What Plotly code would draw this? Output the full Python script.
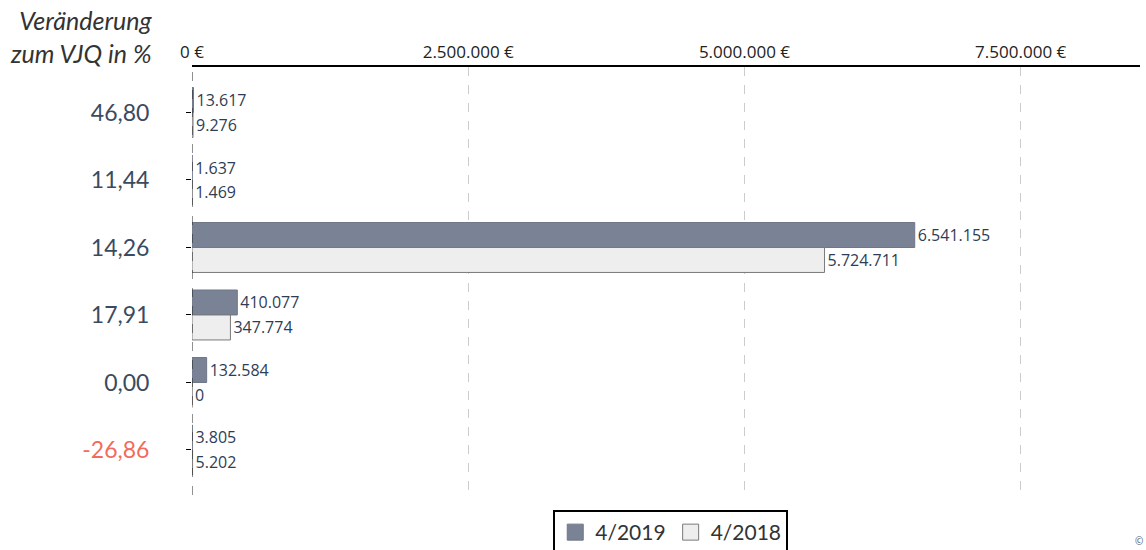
import plotly.graph_objects as go

# Categories: change vs. prior-year quarter (%)
changes = ["46,80", "11,44", "14,26", "17,91", "0,00", "-26,86"]
values_2019 = [13617, 1637, 6541155, 410077, 132584, 3805]
values_2018 = [9276, 1469, 5724711, 347774, 0, 5202]
x_ticks = [0, 2500000, 5000000, 7500000]
x_tick_labels = ["0 €", "2.500.000 €", "5.000.000 €", "7.500.000 €"]

DARK = "#7a8396"
LIGHT = "#eeeeef"
LABEL = "#2e3d55"


def de_fmt(v):
    return f"{v:,}".replace(",", ".")


def tick_label(s):
    color = "#f26b5b" if s.startswith("-") else "#3a4a60"
    return f"<span style='color:{color}'>{s}</span>"


fig = go.Figure()
series = [
    ("4/2019", values_2019, DARK, "#6f7788"),
    ("4/2018", values_2018, LIGHT, "#7a7a7a"),
]
for name, vals, fill, edge in series:
    fig.add_trace(go.Bar(
        name=name, y=changes, x=vals, orientation="h",
        marker=dict(color=fill, line=dict(color=edge, width=1)),
        text=[de_fmt(v) for v in vals], textposition="outside",
        textfont=dict(family="Open Sans", size=16, color=LABEL),
        cliponaxis=False, showlegend=False,
    ))
# legend entries with larger square swatches
for name, vals, fill, edge in series:
    fig.add_trace(go.Scatter(
        name=name, x=[None], y=[None], mode="markers",
        marker=dict(symbol="square", size=20, color=fill, line=dict(color=edge, width=1)),
    ))

# dashed zero line
fig.add_shape(type="line", xref="x", yref="paper", x0=0, x1=0, y0=0, y1=1,
              line=dict(color="#222222", width=1, dash="dash"), layer="above")

fig.add_annotation(xref="paper", yref="paper", x=-0.04, y=1.15,
                   xanchor="right", yanchor="top", align="right",
                   text="<i>Veränderung<br>zum VJQ in %</i>", showarrow=False,
                   font=dict(family="Lato", size=25, color="#333333"))
fig.add_annotation(xref="paper", yref="paper", x=1.005, y=-0.128,
                   xanchor="right", yanchor="bottom", text="©", showarrow=False,
                   font=dict(size=10, color="#555555"))

fig.update_layout(
    width=1146, height=550,
    margin=dict(l=192, r=6, t=67, b=55, autoexpand=False),
    paper_bgcolor="white", plot_bgcolor="white",
    barmode="group", bargap=0.26, bargroupgap=0.0,
    showlegend=True,
    legend=dict(orientation="h", x=0.505, xanchor="center", y=-0.035, yanchor="top",
                bordercolor="black", borderwidth=2,
                font=dict(family="Lato", size=21, color="#333333")),
    xaxis=dict(side="top", range=[0, 8580000], tickvals=x_ticks, ticktext=x_tick_labels,
               showgrid=True, gridcolor="#cccccc", griddash="dash", gridwidth=1,
               zeroline=False, showline=True, linecolor="black", linewidth=1.5,
               ticks="", tickfont=dict(family="Open Sans", size=17, color="#222222")),
    yaxis=dict(type="category", categoryorder="array", categoryarray=changes,
               range=[5.667, -0.674], tickvals=changes,
               ticktext=[tick_label(s) for s in changes],
               ticks="outside", ticklen=5, tickcolor="black", ticklabelstandoff=32,
               showgrid=False, zeroline=False, showline=False,
               tickfont=dict(family="Lato", size=23)),
)

fig.write_html("out.html")
